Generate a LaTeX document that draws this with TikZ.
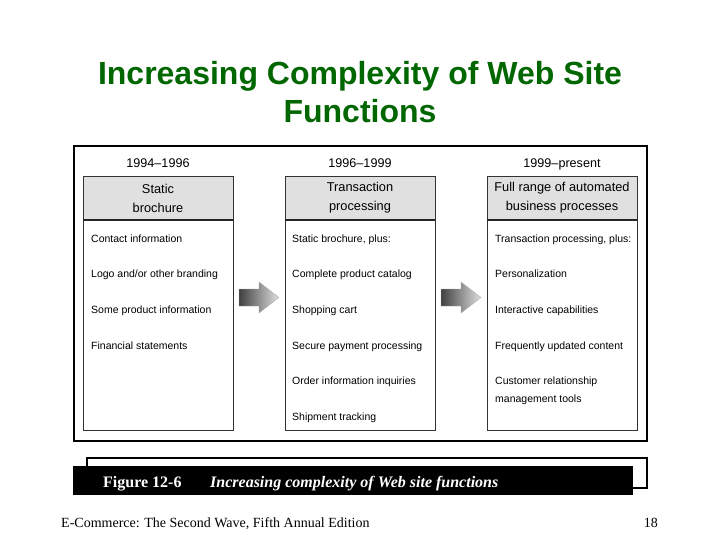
\documentclass[tikz,border=0pt]{standalone}
\usepackage{fontspec}
\setmainfont{Liberation Serif}
\setsansfont{Liberation Sans}
\definecolor{titlegreen}{RGB}{0,102,0}
\definecolor{hdrgray}{RGB}{224,224,224}
\begin{document}
\begin{tikzpicture}[x=1pt,y=-1pt,
  item/.style={anchor=base west, font=\sffamily\fontsize{10.5}{12}\selectfont, inner sep=0},
  year/.style={anchor=base, font=\sffamily\fontsize{12.6}{15}\selectfont, inner sep=0},
  hdr/.style={anchor=center, align=center, font=\sffamily\fontsize{12.8}{19}\selectfont, inner sep=0},
  colbox/.style={draw=black!80, line width=0.9pt},
  hdrbox/.style={draw=black!80, fill=hdrgray, line width=0.9pt},
  blockarrow/.style={left color=black!75, right color=black!12, draw=black!35, line width=0.3pt},
  frame/.style={draw=black, line width=1.8pt}
]
\useasboundingbox (0,0) rectangle (720,540);
% title
\node[anchor=base, font=\sffamily\bfseries\fontsize{32}{38}\selectfont, text=titlegreen, inner sep=0] (t1) at (360,85) {Increasing Complexity of Web Site};
\node[anchor=base, font=\sffamily\bfseries\fontsize{32}{38}\selectfont, text=titlegreen, inner sep=0] (t2) at (360,123) {Functions};
% outer frame
\draw[frame] (74,146) rectangle (647,441);
% years
\node[year] (y1) at (158,168) {1994--1996};
\node[year] (y2) at (360,168) {1996--1999};
\node[year] (y3) at (562,168) {1999--present};
% boxes
\foreach \x/\n in {83/1,285/2,487/3}{
  \draw[colbox] (\x,220) rectangle (\x+150,430);
  \draw[hdrbox] (\x,176) rectangle (\x+150,220);
  \draw[black!85, line width=1.4pt] (\x,220) -- (\x+150,220);
  \coordinate (b\n) at (\x,220);
}
\node[hdr] (h1) at (158,198) {Static\\brochure};
\node[hdr] (h2) at (360,198) {Transaction\\processing};
\node[hdr] (h3) at (562,198) {Full range of automated\\business processes};
% items column 1
\node[item] (a1) at (91,242) {Contact information};
\node[item] (a2) at (91,277) {Logo and/or other branding};
\node[item] (a3) at (91,313) {Some product information};
\node[item] (a4) at (91,349) {Financial statements};
% items column 2
\node[item] (c1) at (292,242) {Static brochure, plus:};
\node[item] (c2) at (292,277) {Complete product catalog};
\node[item] (c3) at (292,313) {Shopping cart};
\node[item] (c4) at (292,349) {Secure payment processing};
\node[item] (c5) at (292,384) {Order information inquiries};
\node[item] (c6) at (292,420) {Shipment tracking};
% items column 3
\node[item] (d1) at (495,242) {Transaction processing, plus:};
\node[item] (d2) at (495,277) {Personalization};
\node[item] (d3) at (495,313) {Interactive capabilities};
\node[item] (d4) at (495,349) {Frequently updated content};
\node[item] (d5) at (495,384) {Customer relationship};
\node[item] (d6) at (495,402) {management tools};
% block arrows
\foreach \x in {239,441}{
  \shade[blockarrow] (\x,289) -- (\x+20,289) -- (\x+20,282) -- (\x+40,297.5)
     -- (\x+20,313) -- (\x+20,306) -- (\x,306) -- cycle;
}
% caption
\draw[black, line width=1.5pt, fill=white] (87,458) rectangle (647,488);
\fill[black] (73,466) rectangle (633,495);
\node[anchor=base west, text=white, font=\bfseries\fontsize{16}{18}\selectfont, inner sep=0] (fig) at (103,487) {Figure 12-6};
\node[anchor=base west, text=white, font=\bfseries\itshape\fontsize{16}{18}\selectfont, inner sep=0] (cap) at (210,487) {Increasing complexity of Web site functions};
% footer
\node[anchor=base west, font=\fontsize{14}{16}\selectfont, inner sep=0] (foot) at (61,527) {E-Commerce:  The Second Wave, Fifth Annual Edition};
\node[anchor=base east, font=\fontsize{14}{16}\selectfont, inner sep=0] (pg) at (658,527) {18};
\end{tikzpicture}
\end{document}
